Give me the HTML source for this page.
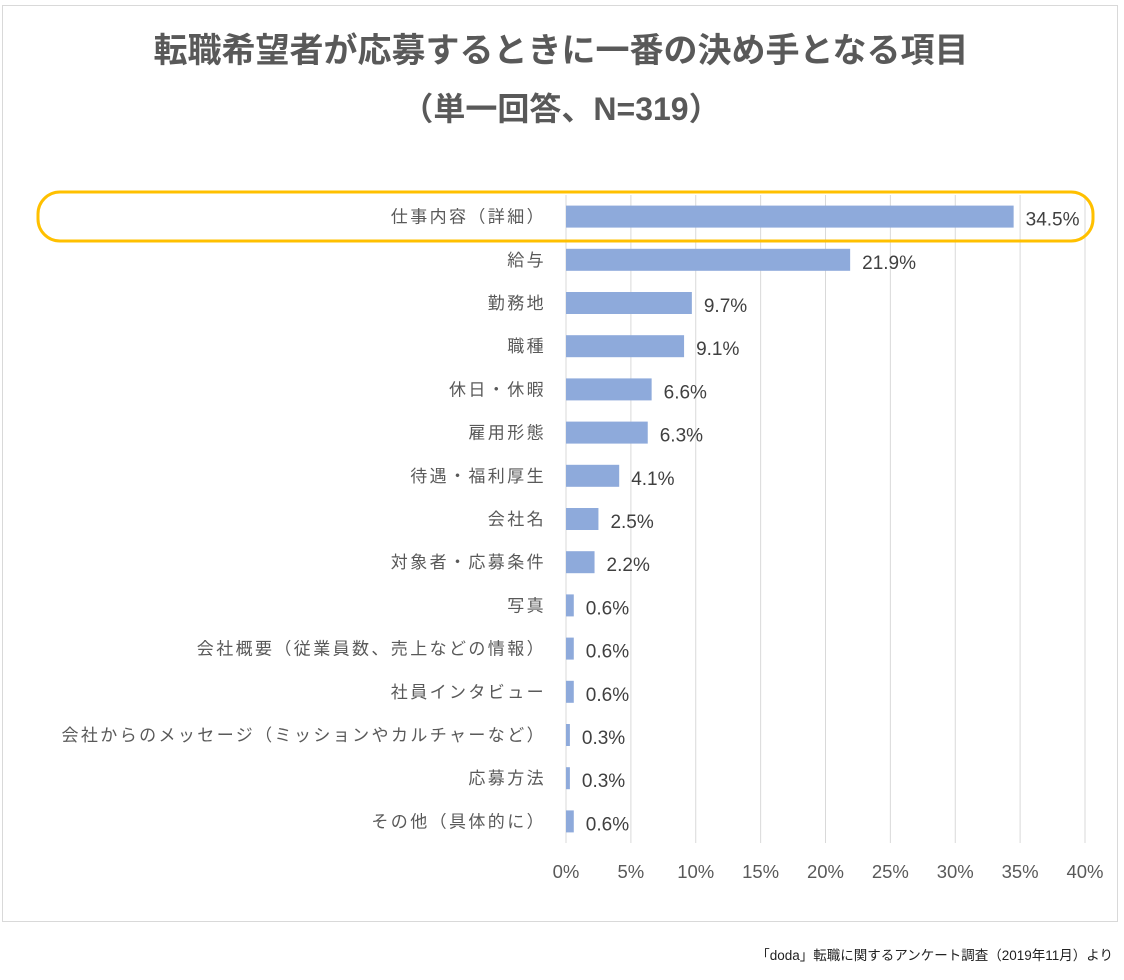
<!DOCTYPE html>
<html><head><meta charset="utf-8">
<style>
body{margin:0;background:#fff;width:1124px;height:975px;overflow:hidden;font-family:"Liberation Sans","Noto Sans CJK JP",sans-serif;}
</style></head>
<body>
<svg width="1124" height="975" xmlns="http://www.w3.org/2000/svg" id="chart">
<rect x="2.5" y="5.5" width="1115" height="916" fill="#fff" stroke="#d9d9d9"/>
<text x="561" y="62" text-anchor="middle" font-size="34" font-weight="bold" fill="#595959" font-family="Liberation Sans,Noto Sans CJK JP,sans-serif">転職希望者が応募するときに一番の決め手となる項目</text>
<text x="561" y="120" text-anchor="middle" font-size="32" font-weight="bold" fill="#595959" font-family="Liberation Sans,Noto Sans CJK JP,sans-serif">（単一回答、N=319）</text>
<g id="grid"></g>
<g id="bars"></g>
<rect x="38" y="192" width="1055" height="49" rx="22" fill="none" stroke="#ffc000" stroke-width="3"/>
<g id="ticks"></g>
<text x="1113" y="960" text-anchor="end" font-size="13.5" fill="#222" font-family="Liberation Sans,Noto Sans CJK JP,sans-serif">「doda」転職に関するアンケート調査（2019年11月）より</text>
</svg>
<script>
const categories=["仕事内容（詳細）","給与","勤務地","職種","休日・休暇","雇用形態","待遇・福利厚生","会社名","対象者・応募条件","写真","会社概要（従業員数、売上などの情報）","社員インタビュー","会社からのメッセージ（ミッションやカルチャーなど）","応募方法","その他（具体的に）"];
const values=[34.5,21.9,9.7,9.1,6.6,6.3,4.1,2.5,2.2,0.6,0.6,0.6,0.3,0.3,0.6];
const tickValues=[0,5,10,15,20,25,30,35,40];
const NS="http://www.w3.org/2000/svg";
const x0=566,x1=1085,xMax=40,yTop=195,yBot=843;
const xs=v=>x0+(v/xMax)*(x1-x0);
const band=(yBot-yTop)/categories.length;
const yc=i=>yTop+band*(i+0.5);
function mk(t,a,p){const e=document.createElementNS(NS,t);for(const k in a)e.setAttribute(k,a[k]);p.appendChild(e);return e;}
const grid=document.getElementById('grid'),bars=document.getElementById('bars'),ticks=document.getElementById('ticks');
tickValues.forEach(v=>{
 const l=mk('line',{x1:xs(v),x2:xs(v),y1:yTop,y2:yBot,stroke:'#d9d9d9','stroke-width':1},grid);
 
 
 const t=mk('text',{x:xs(v),y:878,'text-anchor':'middle','font-size':18.5,fill:'#595959'},ticks);
 t.textContent=v+'%';
 
 
});
categories.forEach((c,i)=>{
 const y=yc(i);
 const t=mk('text',{x:546,y:y+6,'text-anchor':'end','font-size':17,'letter-spacing':2.4,fill:'#595959'},bars);
 t.textContent=c;
 
 
 const r=mk('rect',{x:x0,y:y-11,width:xs(values[i])-x0,height:22,fill:'#8eaadb'},bars);
 
 
 const v=mk('text',{x:xs(values[i])+12,y:y+9,'font-size':19,fill:'#404040'},bars);
 v.textContent=values[i].toFixed(1)+'%';
 
 
});
</script>
</body></html>
